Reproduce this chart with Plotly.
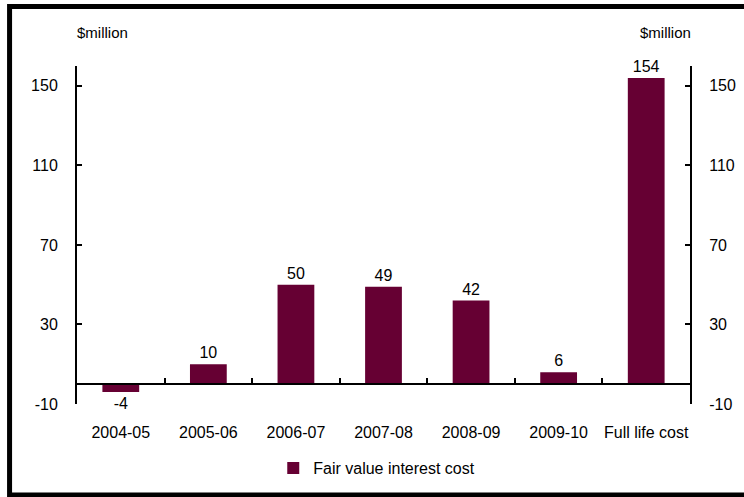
import plotly.graph_objects as go

# Fair value interest cost by year, $million
categories = ["2004-05", "2005-06", "2006-07", "2007-08", "2008-09", "2009-10", "Full life cost"]
values = [-4, 10, 50, 49, 42, 6, 154]
y_ticks = [-10, 30, 70, 110, 150]
y_range = [-10, 160]

bar_color = "#660033"
font_family = "Liberation Sans, Arial, sans-serif"

fig = go.Figure()

fig.add_trace(go.Bar(
    x=categories, y=values,
    name="Fair value interest cost",
    marker=dict(color=bar_color, line=dict(width=0)),
    text=[str(v) for v in values],
    textposition="outside",
    textfont=dict(size=16, color="black", family=font_family),
    cliponaxis=False,
    xaxis="x", yaxis="y",
))

# invisible helpers so the secondary axes are rendered
fig.add_trace(go.Scatter(
    x=categories, y=values, mode="markers", marker=dict(opacity=0),
    showlegend=False, hoverinfo="skip", xaxis="x2", yaxis="y",
))
fig.add_trace(go.Scatter(
    x=categories, y=values, mode="markers", marker=dict(opacity=0),
    showlegend=False, hoverinfo="skip", xaxis="x", yaxis="y2",
))

zero_pos = (0 - y_range[0]) / (y_range[1] - y_range[0])

fig.update_layout(
    width=744, height=497,
    margin=dict(l=77, r=54, t=66, b=93, autoexpand=False),
    paper_bgcolor="white", plot_bgcolor="white",
    font=dict(family=font_family, size=16, color="black"),
    bargap=0.58,
    showlegend=True,
    legend=dict(
        orientation="h", x=0.489, xanchor="center", y=-0.19, yanchor="middle",
        font=dict(size=16), itemwidth=30,
    ),
    # category axis drawn along the zero line, ticks between categories
    xaxis=dict(
        type="category", categoryorder="array", categoryarray=categories,
        anchor="free", position=zero_pos, automargin=False,
        showline=True, linecolor="black", linewidth=2,
        ticks="inside", tickson="boundaries", ticklen=5, tickcolor="black", tickwidth=1.5,
        showticklabels=False, showgrid=False, zeroline=False,
    ),
    # category labels below the plot
    xaxis2=dict(
        type="category", categoryorder="array", categoryarray=categories,
        overlaying="x", matches="x", anchor="y", side="bottom", automargin=False,
        showline=False, ticks="", showgrid=False, zeroline=False,
        tickfont=dict(size=16), ticklabelstandoff=17,
    ),
    yaxis=dict(
        range=y_range, tickvals=y_ticks, ticktext=[str(t) for t in y_ticks],
        automargin=False,
        showline=True, linecolor="black", linewidth=2,
        ticks="inside", ticklen=5, tickcolor="black", tickwidth=1.5,
        showgrid=False, zeroline=False, tickfont=dict(size=16),
        ticklabelstandoff=14,
    ),
    yaxis2=dict(
        range=y_range, tickvals=y_ticks, ticktext=[str(t) for t in y_ticks],
        overlaying="y", matches="y", side="right", anchor="x", automargin=False,
        showline=True, linecolor="black", linewidth=2,
        ticks="inside", ticklen=5, tickcolor="black", tickwidth=1.5,
        showgrid=False, zeroline=False, tickfont=dict(size=16),
        ticklabelstandoff=14,
    ),
    annotations=[
        dict(text="$million", xref="paper", yref="paper", x=0, y=1.10, xshift=-2,
             xanchor="left", yanchor="middle", showarrow=False, font=dict(size=15)),
        dict(text="$million", xref="paper", yref="paper", x=1, y=1.10, xshift=3,
             xanchor="right", yanchor="middle", showarrow=False, font=dict(size=15)),
    ],
    shapes=[
        dict(type="rect", xref="paper", yref="paper",
             x0=-0.110, x1=1.13, y0=-0.269, y1=1.176,
             line=dict(color="black", width=5), fillcolor="rgba(0,0,0,0)", layer="above"),
    ],
)

fig.write_html("out.html")
